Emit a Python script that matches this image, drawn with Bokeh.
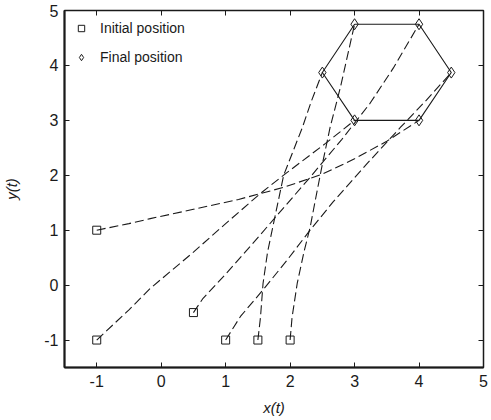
from bokeh.plotting import figure
from bokeh.models import Range1d, FixedTicker, LinearAxis, Legend, LegendItem
from bokeh.embed import file_html
from bokeh.resources import INLINE

# Initial positions (squares)
init_x = [-1, -1, 0.5, 1, 1.5, 2]
init_y = [1, -1, -0.5, -1, -1, -1]

# Final positions (diamonds) - hexagon vertices in drawing order
final_x = [3, 4, 4.5, 4, 3, 2.5, 3]
final_y = [4.75, 4.75, 3.87, 3, 3, 3.87, 4.75]

# Trajectories (dashed)
path_a_x = [-1, -0.5, -0.17, 0.5, 1.2, 1.9, 2.5, 3.0, 3.5, 4.0]
path_a_y = [1, 1.12, 1.21, 1.38, 1.56, 1.78, 2.02, 2.3, 2.62, 3.0]
path_b_x = [-1, -0.5, -0.17, 0.5, 1.0, 1.54, 1.93, 2.55, 3.0]
path_b_y = [-1, -0.45, -0.06, 0.6, 1.12, 1.67, 2.03, 2.58, 3.0]
path_c_x = [0.5, 0.65, 1.0, 1.4, 1.82, 2.3, 2.8, 3.24, 3.6, 4.0]
path_c_y = [-0.5, -0.24, 0.2, 0.73, 1.3, 1.95, 2.65, 3.31, 3.95, 4.75]
path_d_x = [1, 1.23, 1.57, 1.95, 2.31, 2.67, 3.2, 3.71, 4.1, 4.5]
path_d_y = [-1, -0.57, -0.1, 0.45, 1.0, 1.52, 2.22, 2.87, 3.35, 3.87]
path_e_x = [1.5, 1.54, 1.58, 1.65, 1.73, 1.9, 2.19, 2.33, 2.5]
path_e_y = [-1, -0.59, 0.03, 0.6, 1.05, 2.0, 2.87, 3.35, 3.87]
path_f_x = [2, 2.03, 2.11, 2.22, 2.31, 2.4, 2.5, 2.62, 2.78, 3.0]
path_f_y = [-1, -0.59, 0.03, 0.63, 1.05, 1.6, 2.2, 2.87, 3.6, 4.75]

ticks = [-1, 0, 1, 2, 3, 4, 5]
tick_labels = {-1: "-1", 0: "0", 1: "1", 2: "2", 3: "3", 4: "4", 5: "5"}

FONT = "Liberation Sans"
INK = "#1a1a1a"

p = figure(width=491, height=420, output_backend="svg", toolbar_location=None,
           x_range=Range1d(-1.5, 5), y_range=Range1d(-1.5, 5),
           min_border_left=64, min_border_right=8, min_border_top=10, min_border_bottom=53)
p.grid.visible = False
p.outline_line_color = INK
p.outline_line_width = 1.5
p.background_fill_color = "white"
p.border_fill_color = "white"

for ax in [p.xaxis[0], p.yaxis[0]]:
    ax.ticker = FixedTicker(ticks=ticks)
    ax.major_label_overrides = tick_labels
    ax.major_tick_in = 5
    ax.major_tick_out = 0
    ax.minor_tick_line_color = None
    ax.axis_line_width = 2
    ax.axis_line_color = INK
    ax.major_tick_line_color = INK
    ax.major_label_text_font = FONT
    ax.major_label_text_font_size = "16px"
    ax.major_label_text_color = INK
    ax.axis_label_text_font = FONT
    ax.axis_label_text_font_size = "15px"
    ax.axis_label_text_font_style = "italic"
    ax.axis_label_text_color = INK

p.xaxis.axis_label = "x(t)"
p.yaxis.axis_label = "y(t)"
p.xaxis.major_label_standoff = 7
p.xaxis.axis_label_standoff = 9
p.yaxis.major_label_standoff = 6
p.yaxis.axis_label_standoff = 21

for loc in ["above", "right"]:
    ax = LinearAxis(ticker=FixedTicker(ticks=ticks))
    ax.major_label_overrides = {t: "" for t in ticks}
    ax.major_tick_in = 5
    ax.major_tick_out = 0
    ax.minor_tick_line_color = None
    ax.major_label_standoff = 0
    ax.axis_line_color = None
    ax.major_tick_line_color = INK
    p.add_layout(ax, loc)

dash = "9 4"
for xs, ys in [(path_a_x, path_a_y), (path_b_x, path_b_y), (path_c_x, path_c_y),
               (path_d_x, path_d_y), (path_e_x, path_e_y), (path_f_x, path_f_y)]:
    p.line(xs, ys, line_color=INK, line_width=1.1, line_dash=dash)

p.line(final_x, final_y, line_color=INK, line_width=1.1)

r_init = p.scatter(init_x, init_y, marker="square", size=8, fill_color=None,
                   line_color=INK, line_width=1)
r_final = p.scatter(final_x[:-1], final_y[:-1], marker="diamond", size=11, fill_color=None,
                    line_color=INK, line_width=1)

legend = Legend(items=[LegendItem(label="Initial position", renderers=[r_init]),
                       LegendItem(label="Final position", renderers=[r_final])],
                location="top_left")
legend.border_line_color = None
legend.background_fill_alpha = 0
legend.label_text_font = FONT
legend.label_text_font_size = "14px"
legend.label_text_color = INK
legend.glyph_width = 16
legend.glyph_height = 18
legend.label_height = 18
legend.spacing = 11
legend.margin = 9
legend.padding = 0
legend.label_standoff = 11
p.add_layout(legend)

open("out.html", "w").write(file_html(p, INLINE))
